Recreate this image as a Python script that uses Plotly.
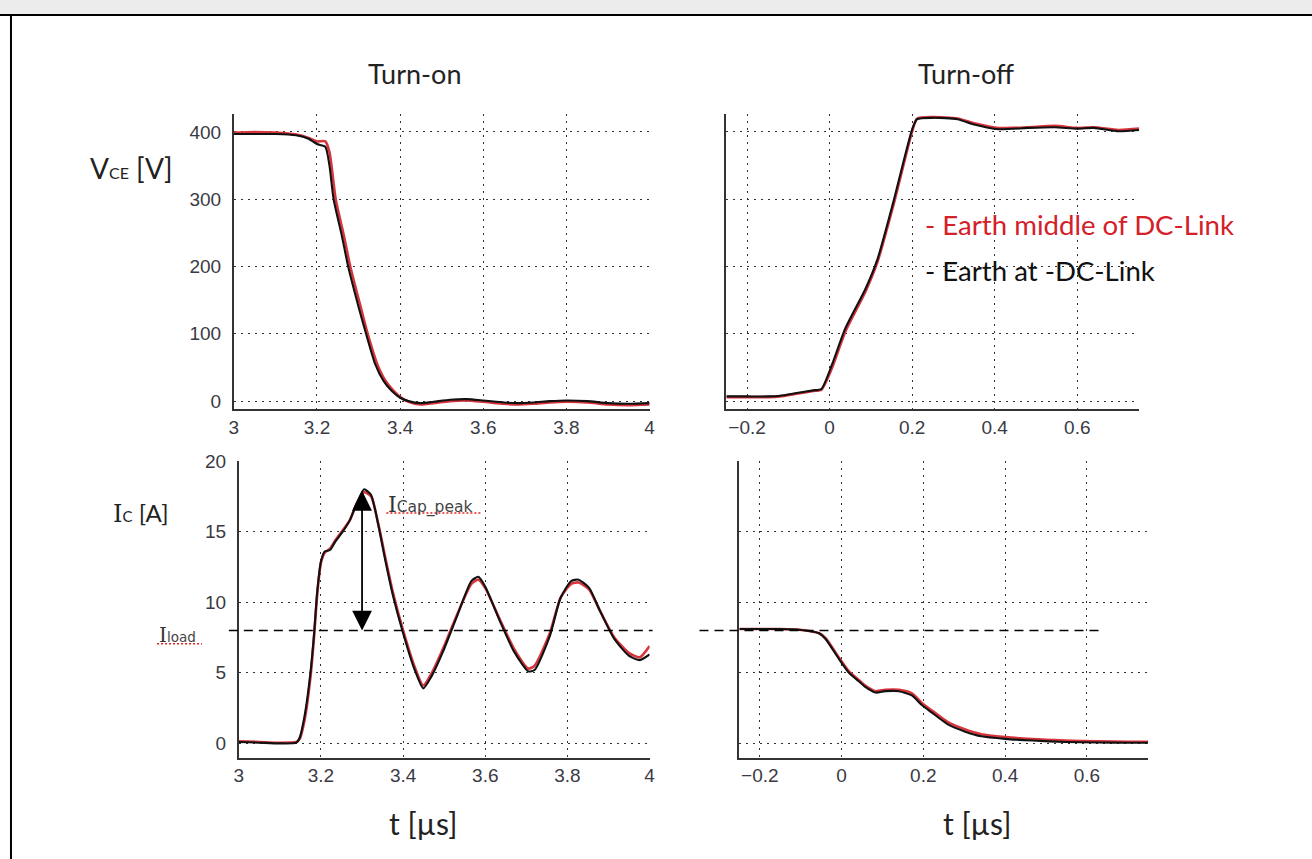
import plotly.graph_objects as go

W, H = 1312, 859

# ---------------- data ----------------
# Turn-on, V_CE [V], t in µs
on_v_t_black = [3.00, 3.05, 3.10, 3.15, 3.18, 3.20, 3.22, 3.23, 3.24, 3.26, 3.275, 3.30, 3.318, 3.34, 3.36,
                3.38, 3.40, 3.42, 3.45, 3.48, 3.52, 3.56, 3.60, 3.65, 3.68, 3.72, 3.76, 3.80, 3.85, 3.90, 3.95, 4.00]
on_v_black = [397, 397, 397, 395, 390, 382, 378, 350, 300, 245, 200, 140, 100, 55, 30,
              15, 5, 0, -3, -1, 2, 3, 1, -2, -3, -2, 0, 1, 0, -3, -4, -3]
on_v_t_red = [3.00, 3.05, 3.10, 3.15, 3.18, 3.20, 3.22, 3.23, 3.245, 3.265, 3.28, 3.305, 3.322, 3.345, 3.365,
              3.385, 3.405, 3.425, 3.45, 3.48, 3.52, 3.56, 3.60, 3.65, 3.68, 3.72, 3.76, 3.80, 3.85, 3.90, 3.95, 4.00]
on_v_red = [399, 400, 399, 396, 391, 386, 386, 370, 300, 245, 200, 140, 100, 55, 30,
            15, 4, -2, -5, -3, 0, 1, -1, -4, -5, -4, -2, -1, -2, -5, -6, -5]

# Turn-off, V_CE [V]
off_v_t = [-0.25, -0.20, -0.15, -0.12, -0.08, -0.04, -0.02, 0.005, 0.038, 0.087, 0.116, 0.154, 0.20,
           0.212, 0.25, 0.31, 0.35, 0.41, 0.48, 0.545, 0.60, 0.64, 0.70, 0.75]
off_v_black = [7, 7, 7, 8, 12, 16, 18, 53, 108, 167, 211, 295, 404,
               419, 421, 419, 411, 404, 406, 407, 405, 406, 401, 403]
off_v_red = [6, 6, 6, 7, 11, 15, 17, 48, 103, 163, 207, 290, 401,
             420, 422, 420, 413, 406, 407, 409, 406, 407, 403, 405]

# Turn-on, I_C [A]
on_i_t = [3.00, 3.05, 3.10, 3.14, 3.148, 3.161, 3.174, 3.183, 3.191, 3.20, 3.209, 3.222, 3.235, 3.253, 3.27,
          3.287, 3.305, 3.322, 3.34, 3.357, 3.375, 3.401, 3.427, 3.449, 3.47, 3.497, 3.531, 3.566, 3.583,
          3.60, 3.635, 3.67, 3.705, 3.72, 3.757, 3.783, 3.809, 3.827, 3.853, 3.879, 3.914, 3.95, 3.976, 4.00]
on_i_black = [0.1, 0.05, 0.0, 0.05, 0.4, 2.1, 4.9, 7.7, 10.8, 12.9, 13.6, 13.7, 14.3, 15.0, 15.8,
              17.0, 18.0, 17.6, 15.4, 12.9, 10.5, 7.7, 5.3, 3.9, 4.8, 6.5, 9.0, 11.5, 11.8,
              11.1, 8.7, 6.5, 5.1, 5.2, 7.6, 10.3, 11.5, 11.6, 11.0, 9.4, 7.4, 6.2, 5.9, 6.3]
on_i_red = [0.15, 0.1, 0.05, 0.1, 0.3, 1.8, 4.6, 7.5, 10.6, 12.8, 13.5, 13.8, 14.4, 15.1, 15.8,
            17.0, 17.8, 17.5, 15.5, 13.1, 10.7, 7.9, 5.5, 4.1, 5.0, 6.7, 9.1, 11.3, 11.6,
            11.0, 8.8, 6.7, 5.3, 5.5, 7.8, 10.3, 11.3, 11.4, 10.9, 9.4, 7.5, 6.4, 6.1, 6.9]

# Turn-off, I_C [A]
off_i_t = [-0.25, -0.20, -0.15, -0.104, -0.055, -0.039, -0.007, 0.018, 0.042, 0.058, 0.083, 0.107, 0.14,
           0.172, 0.197, 0.22, 0.26, 0.301, 0.342, 0.40, 0.467, 0.547, 0.628, 0.70, 0.75]
off_i_black = [8.1, 8.1, 8.1, 8.05, 7.8, 7.4, 6.0, 5.0, 4.4, 4.0, 3.6, 3.7, 3.7,
               3.4, 2.7, 2.2, 1.35, 0.85, 0.5, 0.32, 0.2, 0.1, 0.06, 0.05, 0.05]
off_i_red = [8.1, 8.1, 8.1, 8.05, 7.8, 7.45, 6.1, 5.1, 4.5, 4.1, 3.7, 3.8, 3.8,
             3.55, 2.85, 2.35, 1.5, 1.0, 0.65, 0.45, 0.3, 0.2, 0.14, 0.12, 0.12]

I_load = 8
I_cap_peak = 18
t_peak = 3.3

on_t_ticks = [3, 3.2, 3.4, 3.6, 3.8, 4]
off_t_ticks = [-0.2, 0, 0.2, 0.4, 0.6]
v_ticks = [0, 100, 200, 300, 400]
i_ticks = [0, 5, 10, 15, 20]

RED = "#d8343c"
BLACK = "#111111"

# layout positions are given in reference-picture pixels and mapped to the page
OX, SX = 3.5, 0.9945
OY, SY = 8.0, 0.988


def px(x):
    return ((x - OX) / SX) / W


def py(y):
    return 1 - ((y - OY) / SY) / H


fig = go.Figure()

series = [
    ("x", "y", on_v_t_red, on_v_red, on_v_t_black, on_v_black),
    ("x2", "y2", off_v_t, off_v_red, off_v_t, off_v_black),
    ("x3", "y3", on_i_t, on_i_red, on_i_t, on_i_black),
    ("x4", "y4", off_i_t, off_i_red, off_i_t, off_i_black),
]
for xa, ya, tr, vr, tb, vb in series:
    fig.add_trace(go.Scatter(x=tr, y=vr, xaxis=xa, yaxis=ya, mode="lines",
                             line=dict(color=RED, width=2.6, shape="spline", smoothing=0.6),
                             showlegend=False, hoverinfo="skip"))
    fig.add_trace(go.Scatter(x=tb, y=vb, xaxis=xa, yaxis=ya, mode="lines",
                             line=dict(color=BLACK, width=2.1, shape="spline", smoothing=0.6),
                             showlegend=False, hoverinfo="skip"))

grid = dict(showgrid=True, gridcolor="#333333", gridwidth=1.3, griddash="2px,5px", zeroline=False,
            showline=True, linecolor="#333333", linewidth=1.8, ticks="",
            tickfont=dict(family="Liberation Sans, Arial", size=19, color="#3a3a44"))
xg = dict(grid, ticklabelstandoff=0)
yg = dict(grid, ticklabelstandoff=7)

fig.update_layout(
    width=W, height=H,
    margin=dict(l=0, r=0, t=0, b=0),
    paper_bgcolor="white", plot_bgcolor="rgba(0,0,0,0)",
    showlegend=False,
    xaxis=dict(domain=[px(233), px(650)], range=[3, 4], tickvals=on_t_ticks, anchor="y", **xg),
    yaxis=dict(domain=[py(408), py(112)], range=[-12, 427], tickvals=v_ticks, anchor="x", **yg),
    xaxis2=dict(domain=[px(727), px(1141)], range=[-0.25, 0.75], tickvals=off_t_ticks, anchor="y2", **xg),
    yaxis2=dict(domain=[py(408), py(112)], range=[-12, 427], tickvals=v_ticks, showticklabels=False,
                anchor="x2", **yg),
    xaxis3=dict(domain=[px(238), px(650)], range=[3, 4], tickvals=on_t_ticks, anchor="y3", **xg),
    yaxis3=dict(domain=[py(757), py(460)], range=[-1, 20], tickvals=i_ticks, anchor="x3", **yg),
    xaxis4=dict(domain=[px(740), px(1150)], range=[-0.25, 0.75], tickvals=off_t_ticks, anchor="y4", **xg),
    yaxis4=dict(domain=[py(757), py(460)], range=[-1, 20], tickvals=i_ticks, showticklabels=False,
                anchor="x4", **yg),
)

shapes = [
    # header bar
    dict(type="rect", xref="paper", yref="paper", x0=-0.01, x1=1.01, y0=py(12.5), y1=1.02,
         fillcolor="#ececec", line=dict(width=0), layer="below"),
    dict(type="line", xref="paper", yref="paper", x0=-0.01, x1=1.01, y0=py(13), y1=py(13),
         line=dict(color="black", width=2)),
    dict(type="line", xref="paper", yref="paper", x0=px(9.5), x1=px(9.5), y0=py(13), y1=-0.01,
         line=dict(color="black", width=2)),
    # I_load dashed reference lines
    dict(type="line", xref="paper", yref="y3", x0=px(228), x1=px(653), y0=I_load, y1=I_load,
         line=dict(color="black", width=1.6, dash="9px,6px")),
    dict(type="line", xref="paper", yref="y4", x0=px(700), x1=px(1104), y0=I_load, y1=I_load,
         line=dict(color="black", width=1.6, dash="9px,6px")),
    # red wavy-style underlines
    dict(type="line", xref="paper", yref="paper", x0=px(156), x1=px(201), y0=py(643), y1=py(643),
         line=dict(color="#e02020", width=1.6, dash="2px,2px")),
    dict(type="line", xref="paper", yref="paper", x0=px(386), x1=px(481), y0=py(512), y1=py(512),
         line=dict(color="#e02020", width=1.6, dash="2px,2px")),
]
fig.update_layout(shapes=shapes)

txt = "Lato"
SERIF = "font-family:DejaVu Serif"
SMALL = "font-family:DejaVu Sans;color:#444"
ann = [
    dict(text="Turn-on", x=px(414), y=py(72), font=dict(size=27, color="#222", family=txt)),
    dict(text="Turn-off", x=px(967), y=py(72), font=dict(size=27, color="#222", family=txt)),
    dict(text="V<span style='font-size:16px'>CE</span> [V]", x=px(130), y=py(166),
         font=dict(size=28, color="#222", family=txt)),
    dict(text="<span style='%s'>I</span><span style='font-size:15px'>C</span> [A]" % SERIF,
         x=px(140), y=py(512), font=dict(size=24, color="#222", family=txt)),
    dict(text="<span style='%s'>I</span><span style='font-size:13.5px;%s'>load</span>" % (SERIF, SMALL),
         x=px(156), y=py(634), font=dict(size=20, color="#333", family=txt), xanchor="left"),
    dict(text="<span style='%s'>I</span><span style='font-size:15.5px;%s'>Cap_peak</span>" % (SERIF, SMALL),
         x=px(386), y=py(503), font=dict(size=22, color="#333", family=txt), xanchor="left"),
    dict(text="- Earth middle of DC-Link", x=px(924), y=py(223), xanchor="left",
         font=dict(size=27.6, color="#d42028", family=txt)),
    dict(text="- Earth at -DC-Link", x=px(924), y=py(269), xanchor="left",
         font=dict(size=27.6, color="#111", family=txt)),
    dict(text="t [µs]", x=px(423), y=py(823), font=dict(size=30, color="#222", family=txt)),
    dict(text="t [µs]", x=px(978), y=py(823), font=dict(size=30, color="#222", family=txt)),
]
for a in ann:
    a.setdefault("xref", "paper")
    a.setdefault("yref", "paper")
    a.setdefault("xanchor", "center")
    a.setdefault("yanchor", "middle")
    a["showarrow"] = False
    fig.add_annotation(**a)

# double-headed arrow I_Cap_peak -> I_load
fig.add_annotation(x=t_peak, y=I_load, ax=t_peak, ay=I_cap_peak, xref="x3", yref="y3",
                   axref="x3", ayref="y3", text="", showarrow=True, arrowside="end+start",
                   arrowhead=2, arrowsize=2.2, arrowwidth=1.8, arrowcolor="black")

pin = ("document.documentElement.style.margin='0';document.body.style.margin='0';"
       "document.body.style.overflow='hidden';"
       "document.documentElement.style.background='linear-gradient(#ececec 0px,#ececec 12px,white 12px)';"
       "var g=document.querySelector('.plotly-graph-div');"
       "g.style.position='fixed';g.style.left='0px';g.style.top='0px';")
fig.write_html("out.html", config={"displayModeBar": False}, post_script=pin)
